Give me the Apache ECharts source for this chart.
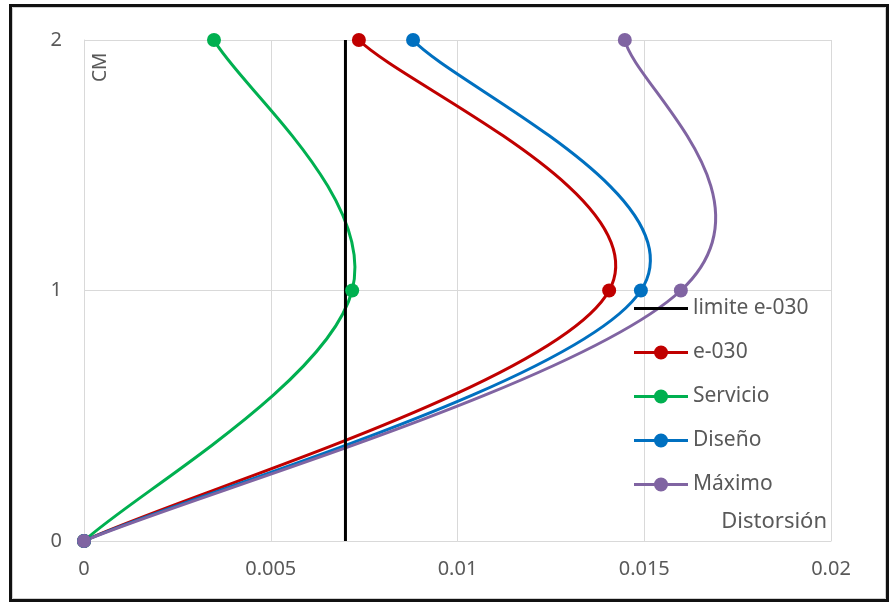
<!DOCTYPE html>
<html>
<head>
<meta charset="utf-8">
<script src="https://cdn.jsdelivr.net/npm/echarts@6/dist/echarts.min.js"></script>
<style>
html,body{margin:0;padding:0;background:#fff;}
#c{width:890px;height:603px;}
</style>
</head>
<body>
<div id="c"></div>
<script>
// Data (x = distortion, y = level)
var levels = [0, 1, 2];
var limiteX = [0.007, 0.007, 0.007];
var e030X = [0, 0.01406, 0.00736];
var servicioX = [0, 0.00718, 0.00348];
var disenoX = [0, 0.01491, 0.00881];
var maximoX = [0, 0.01598, 0.01448];
var xTicks = [0, 0.005, 0.01, 0.015, 0.02];
var yTicks = [0, 1, 2];
var seriesNames = ['limite e-030', 'e-030', 'Servicio', 'Diseño', 'Máximo'];
var seriesColors = ['#000000', '#C00000', '#00B050', '#0070C0', '#8064A2'];

function pairs(xs) { return xs.map(function (x, i) { return [x, levels[i]]; }); }

var FONT = 'Noto Sans';
var TENSION = 0.185; // spreadsheet-style spline smoothing

// Smooth curve drawn through the data points, positions from the axes (api.coord)
function curveRenderer(color) {
  return function (params, api) {
    if (params.dataIndexInside !== 0) return null;
    var n = params.dataInsideLength;
    var P = [];
    for (var j = 0; j < n; j++) {
      P.push(api.coord([api.value(0, j), api.value(1, j)]));
    }
    var children = [];
    for (var i = 0; i < n - 1; i++) {
      var prev = P[i - 1] || P[i];
      var nxt2 = P[i + 2] || P[i + 1];
      children.push({
        type: 'bezierCurve',
        shape: {
          x1: P[i][0], y1: P[i][1],
          x2: P[i + 1][0], y2: P[i + 1][1],
          cpx1: P[i][0] + (P[i + 1][0] - prev[0]) * TENSION,
          cpy1: P[i][1] + (P[i + 1][1] - prev[1]) * TENSION,
          cpx2: P[i + 1][0] - (nxt2[0] - P[i][0]) * TENSION,
          cpy2: P[i + 1][1] - (nxt2[1] - P[i][1]) * TENSION
        },
        style: { stroke: color, lineWidth: 3, fill: null, lineCap: 'round' }
      });
    }
    return { type: 'group', children: children };
  };
}

var allX = [limiteX, e030X, servicioX, disenoX, maximoX];
var series = [];
// markers (line series with hidden line) carry the names for the legend
allX.forEach(function (xs, i) {
  if (i === 0) {
    series.push({
      name: seriesNames[0], type: 'line', data: pairs(xs),
      symbol: 'none', z: 3,
      lineStyle: { color: seriesColors[0], width: 3 },
      itemStyle: { color: seriesColors[0] },
      emphasis: { disabled: true }, animation: false
    });
  } else {
    series.push({
      name: seriesNames[i], type: 'line', data: pairs(xs),
      symbol: 'circle', symbolSize: 14, showSymbol: true, z: 4,
      lineStyle: { color: seriesColors[i], width: 3, opacity: 0 },
      itemStyle: { color: seriesColors[i] },
      emphasis: { disabled: true }, animation: false
    });
    series.push({
      type: 'custom', data: pairs(xs), z: 2,
      encode: { x: 0, y: 1 },
      renderItem: curveRenderer(seriesColors[i]),
      silent: true, animation: false
    });
  }
});

var lineIcon = 'path://M0,0L0.01,0L0.01,0.01Z M54,14L53.99,14L53.99,13.99Z M0,5.5L54,5.5L54,8.5L0,8.5Z';
var markIcon = 'path://M0,5.5L54,5.5L54,8.5L0,8.5Z M20,7A7,7,0,1,1,34,7A7,7,0,1,1,20,7Z';

var chart = echarts.init(document.getElementById('c'), null, { renderer: 'canvas' });
chart.setOption({
  animation: false,
  backgroundColor: '#ffffff',
  grid: { left: 84, right: 59, top: 40, bottom: 62, containLabel: false },
  xAxis: {
    type: 'value', min: xTicks[0], max: xTicks[xTicks.length - 1], interval: 0.005,
    axisLine: { show: true, lineStyle: { color: '#d9d9d9', width: 1 } },
    axisTick: { show: false },
    splitLine: { show: true, lineStyle: { color: '#d9d9d9', width: 1 } },
    axisLabel: { color: '#595959', fontFamily: FONT, fontSize: 20, margin: 18,
      formatter: function (v) { return String(+v.toFixed(4)); } }
  },
  yAxis: {
    type: 'value', min: yTicks[0], max: yTicks[yTicks.length - 1], interval: 1,
    axisLine: { show: true, lineStyle: { color: '#d9d9d9', width: 1 } },
    axisTick: { show: false },
    splitLine: { show: true, lineStyle: { color: '#d9d9d9', width: 1 } },
    axisLabel: { color: '#595959', fontFamily: FONT, fontSize: 20, margin: 22 }
  },
  legend: {
    orient: 'vertical', left: 629, top: 293,
    itemWidth: 54, itemHeight: 14, itemGap: 23,
    data: seriesNames.map(function (nm, i) { return { name: nm, icon: i === 0 ? lineIcon : markIcon }; }),
    textStyle: { color: '#595959', fontFamily: FONT, fontSize: 21, lineHeight: 20 },
    selectedMode: false
  },
  graphic: [
    { type: 'rect', shape: { x: 10.5, y: 5.5, width: 877, height: 595 },
      style: { fill: 'none', stroke: '#111', lineWidth: 3 }, z: 100 },
    { type: 'rect', shape: { x: 12.5, y: 7.5, width: 873, height: 591 },
      style: { fill: 'none', stroke: '#d0d0d0', lineWidth: 1 }, z: 100 },
    { type: 'text', x: 91, y: 82, rotation: Math.PI / 2,
      style: { text: 'CM', fill: '#595959', font: '19px "Noto Sans"', textAlign: 'left', textVerticalAlign: 'top' } },
    { type: 'text', x: 827, y: 522,
      style: { text: 'Distorsión', fill: '#595959', font: '22px "Noto Sans"', textAlign: 'right', textVerticalAlign: 'middle' } }
  ],
  series: series
});
</script>
</body>
</html>
